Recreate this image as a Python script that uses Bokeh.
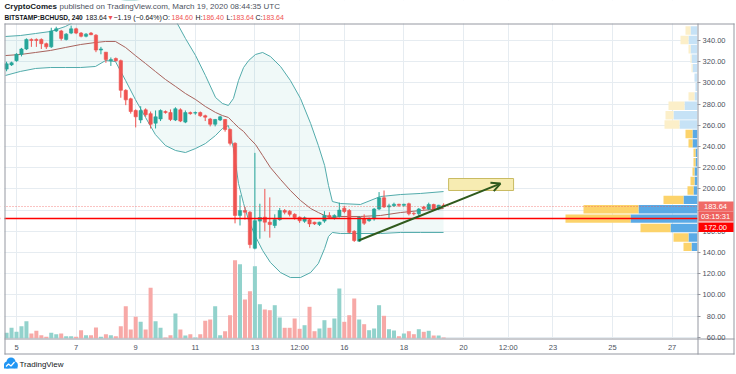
from bokeh.plotting import figure
from bokeh.models import (Range1d, FixedTicker, Label, Arrow, OpenHead, LinearAxis,
                          ColumnDataSource, BoxAnnotation, PrintfTickFormatter)
from bokeh.embed import file_html
from bokeh.resources import INLINE

# ---------------- data ----------------
# 4h candles, BITSTAMP:BCHUSD, first candle March 4 16:00 UTC
first_candle_day = 4 + 16 / 24
opens = [313, 317, 321, 327, 332, 341, 341, 341, 337, 334, 349, 349, 341, 347, 351, 347, 344, 347, 345, 331,
         329, 321, 323, 321, 293, 285, 274, 265, 274.6, 271, 262, 266, 273, 272, 265, 274.6, 263, 272, 271.5, 272,
         269, 266, 261, 265, 265.5, 256, 243, 175, 179.6, 178, 144, 169.6, 173.3, 168.6, 165.5, 171, 179.6, 179, 176, 173.3,
         169.5, 170.8, 168.6, 166.4, 169.6, 175, 172.7, 174, 181.8, 179.6, 160, 150.7, 171.8, 170, 171.8, 181, 191.6, 183, 184, 185.5,
         184.5, 186, 177, 176.5, 183, 181, 185.3, 181, 184.6]
highs = [320, 320, 328, 333, 342, 342, 342, 342, 338, 352, 353, 350, 347, 354, 352, 348, 347, 348, 346, 334,
         329, 324, 324, 322, 294, 286, 275, 278, 276, 273, 274, 275, 274, 275, 277, 276, 274, 273, 273, 273,
         270, 267, 266, 269, 266, 257, 244, 194, 183, 179, 234, 186, 200, 192, 176, 182, 181, 180, 177, 174,
         174, 172, 169, 169, 179, 178, 176, 187, 184, 181, 161, 174, 176, 173, 182, 197, 198.5, 186, 187, 186,
         186, 187, 178, 182, 184, 187, 186, 185, 186.4]
lows = [311, 316, 320, 325, 331, 334, 334, 332, 332, 333, 348, 340, 340, 346, 346, 343, 343, 345, 329, 327,
        319, 316, 320, 286, 279, 271, 258, 262, 268, 257, 257, 264, 271, 264, 264, 263, 262, 270, 270, 268,
        264, 259, 259, 264, 254, 241, 167.5, 165.5, 171, 144, 143, 153, 160, 154, 163, 170, 176, 174, 171, 168,
        168, 164, 166, 165, 168, 172, 171, 173, 177, 158, 150, 150, 166, 169, 170, 180, 182, 172, 183, 183,
        183, 175, 175, 173, 180, 180, 180, 180, 183.64]
closes = [318, 319, 327, 332, 341, 340, 340, 337, 334, 349, 351, 342, 346, 351, 347, 344, 346, 345.5, 331, 332,
          322, 322, 321, 293, 284, 273, 268, 274, 270, 261, 268, 274, 272, 265.5, 275.6, 264, 272, 271, 272, 269,
          267.7, 261, 265.5, 268, 256, 243, 175, 179.6, 178, 147.5, 170, 173, 168.6, 166.4, 171, 179.6, 178, 176, 173, 170,
          172.7, 167, 167, 168.6, 175, 173, 175, 180, 178.7, 159, 151.3, 173.3, 167.6, 171.8, 181, 191.6, 183, 184, 185.5, 184.5,
          185.5, 176.5, 176.5, 181, 181.5, 185.3, 181, 184.6, 183.64]
volumes = [5.7, 10.7, 6.7, 12.3, 17.3, 5, 7.7, 3.3, 1.7, 5.7, 4.3, 5, 2.3, 2.3, 1.7, 8.3, 3.3, 3.3, 11, 1.7,
           4.3, 3.3, 2.3, 12.3, 32.3, 9, 21.7, 16.7, 9, 50.7, 17.3, 10.7, 1, 3.3, 25, 9, 3, 4.3, 1, 4.3,
           17.7, 19, 32.3, 3.3, 7.3, 23.3, 78.3, 74.3, 39, 47.3, 72.3, 34.3, 29, 28.3, 33.3, 21, 10.7, 10.7, 20, 9.7,
           13.3, 31.7, 7.3, 10, 18.3, 10.7, 20, 50, 16.7, 23.3, 40, 19, 14.3, 8.3, 10, 33.3, 22.7, 9.3, 8, 2.3,
           5, 7.3, 4.3, 9.3, 6.7, 7.7, 3, 3, 1]

# Bollinger bands (20, 2)
bb_day = [4.63, 5.13, 5.64, 6.14, 6.64, 7.15, 7.65, 7.99, 8.32, 8.66, 8.99, 9.33, 9.66, 10.0, 10.34, 10.67,
          11.01, 11.34, 11.68, 11.91, 12.11, 12.28, 12.45, 12.62, 12.79, 13.02, 13.26, 13.52, 13.86, 14.19, 14.53,
          14.87, 15.13, 15.34, 15.47, 15.6, 15.87, 16.54, 17.21, 17.89, 18.56, 19.33]
bb_upper = [343.8, 344.7, 346.6, 348.5, 353.2, 360.8, 368.3, 373.0, 375.8, 377.7, 377.7, 375.8, 373.0, 368.3, 358.9, 341.9,
            325.8, 307.0, 286.2, 280.6, 278.7, 285.3, 302.3, 314.5, 321.1, 326.8, 328.7, 324.9, 315.5, 302.3, 285.3,
            261.7, 240.9, 222.1, 203.2, 188.1, 186.2, 185.3, 192.8, 194.7, 195.7, 197.5]
bb_middle = [325.8, 326.8, 328.7, 330.6, 333.4, 336.2, 338.1, 339.1, 339.1, 333.4, 325.8, 318.3, 310.8, 303.2, 296.6, 290.0,
             284.3, 277.7, 272.1, 269.2, 267.4, 262.6, 257.9, 254.2, 248.5, 241.9, 231.5, 220.2, 208.9, 198.5, 189.1,
             181.5, 177.7, 174.9, 174.0, 173.0, 174.0, 174.0, 174.9, 177.7, 179.6, 181.5]
bb_lower = [307.0, 310.8, 313.6, 314.5, 314.5, 314.5, 315.5, 321.1, 320.2, 302.3, 284.3, 267.4, 251.3, 240.9, 236.2, 234.3,
            238.1, 242.8, 250.4, 257.0, 259.8, 238.1, 205.1, 186.2, 170.2, 155.1, 141.9, 130.6, 121.1, 116.4, 116.4,
            121.1, 129.6, 143.8, 155.1, 158.9, 157.9, 157.9, 157.9, 158.9, 158.9, 158.9]

# Visible range volume profile (rows, up volume / down volume)
vp_price = [145.3, 154.2, 163.1, 171.9, 180.8, 189.7, 198.5, 207.4, 216.3, 225.2, 234.0, 242.9,
            251.8, 260.7, 269.5, 278.4, 287.3, 296.2, 305.0, 313.9, 322.8, 331.7, 340.5, 349.4]
vp_up = [6, 9, 27, 67, 59, 14, 4, 3, 3, 2, 2, 5, 5, 18, 24, 13, 3, 2, 3, 5, 6, 7, 9, 7]
vp_down = [8, 15, 30, 65, 55, 20, 6, 4, 2, 2, 2, 4, 7, 15, 8, 16, 6, 0, 0, 1, 1, 2, 8, 5]
vp_in_value_area = [True] * 13 + [False] * 11

# drawings
zone_day = [19.5, 21.68]
zone_price = [198.5, 209.8]
trend_day = [16.48, 21.24]
trend_price = [151.3, 205.0]
last_price = 183.64
level_price = 172.0

x_ticks = [5, 7, 9, 11, 13, 14.5, 16, 18, 20, 21.5, 23, 25, 27]
x_labels = ["5", "7", "9", "11", "13", "12:00", "16", "18", "20", "12:00", "23", "25", "27"]
y_ticks = [60, 80, 100, 120, 140, 160, 180, 200, 220, 240, 260, 280, 300, 320, 340]

# ---------------- layout helpers (pixel -> data) ----------------
W, H = 736, 374
PL, PR, PT, PB = 4, 697, 23, 338      # price pane
OR_, OB = 733, 353                     # outer border right / bottom


def dx(px):
    return 5 + (px - 16) / 29.8


def py(ypx):
    return 340 - (ypx - 40) / 1.06


GREEN, RED = "#26a69a", "#ef5350"
FONT = "Liberation Sans"
AX_COL = "#9598a1"

p = figure(width=W, height=H, x_range=Range1d(dx(0), dx(W)), y_range=Range1d(py(H), py(0)),
           output_backend="svg", toolbar_location=None, x_axis_location=None, y_axis_location=None,
           min_border=0, background_fill_color="white", border_fill_color="white")
p.outline_line_color = None

p.extra_y_ranges = {"vol": Range1d(-(H - PB), PB)}
p.extra_x_ranges = {"vp": Range1d(PR, PR - W)}

# grid
p.xgrid.ticker = FixedTicker(ticks=x_ticks)
p.ygrid.ticker = FixedTicker(ticks=y_ticks)
p.xgrid.grid_line_color = "#e6ecf1"
p.ygrid.grid_line_color = "#e6ecf1"

# axes (price scale on the right edge of the pane, time scale under it)
yax = LinearAxis(ticker=FixedTicker(ticks=y_ticks), formatter=PrintfTickFormatter(format="%.2f"),
                 fixed_location=dx(PR), major_label_overrides={180: ""})
yax.major_tick_in = 3
yax.major_tick_out = 0
yax.major_label_standoff = -28
xax = LinearAxis(ticker=FixedTicker(ticks=x_ticks), fixed_location=py(PB),
                 major_label_overrides={t: l for t, l in zip(x_ticks, x_labels)})
xax.major_tick_in = 0
xax.major_tick_out = 0
xax.major_label_standoff = -13
for ax in (xax, yax):
    ax.axis_line_color = None
    ax.major_tick_line_color = AX_COL
    ax.minor_tick_line_color = None
    ax.major_label_text_font = FONT
    ax.major_label_text_font_size = "7.5px"
    ax.major_label_text_color = "#4c525e"
p.add_layout(yax, "left")
p.add_layout(xax, "above")

# candles
t = [first_candle_day + i / 6 for i in range(len(closes))]
cols = [GREEN if c >= o else RED for o, c in zip(opens, closes)]
vcols = ["#92d2cc" if c >= o else "#f7a9a7" for o, c in zip(opens, closes)]
src = ColumnDataSource(dict(t=t, o=opens, h=highs, l=lows, c=closes,
                            top=[max(o, c) for o, c in zip(opens, closes)],
                            bot=[min(o, c) for o, c in zip(opens, closes)],
                            vol=volumes, col=cols, vcol=vcols))

p.vbar(x="t", top="vol", bottom=0, width=0.135, fill_color="vcol", line_color=None,
       y_range_name="vol", source=src)

# bollinger
p.varea(x=bb_day, y1=bb_lower, y2=bb_upper, fill_color="#26a69a", fill_alpha=0.07)
p.line(bb_day, bb_upper, line_color="#52abab", line_width=1)
p.line(bb_day, bb_lower, line_color="#52abab", line_width=1)
p.line(bb_day, bb_middle, line_color="#a8625c", line_width=1)

p.segment(x0="t", y0="l", x1="t", y1="h", line_color="col", line_width=1, source=src)
p.vbar(x="t", top="top", bottom="bot", width=0.11, fill_color="col", line_color="col",
       line_width=0.6, source=src)

# volume profile
vp_row_h = 7.9
up_c = ["#5aaae6" if v else "#c6e2f6" for v in vp_in_value_area]
dn_c = ["#fcd36b" if v else "#fcefc9" for v in vp_in_value_area]
p.hbar(y=vp_price, left=0, right=vp_up, height=vp_row_h, fill_color=up_c, line_color=None,
       x_range_name="vp")
p.hbar(y=vp_price, left=vp_up, right=[u + d for u, d in zip(vp_up, vp_down)], height=vp_row_h,
       fill_color=dn_c, line_color=None, x_range_name="vp")

# horizontal levels
p.hspan(y=[last_price], line_color=RED, line_alpha=0.7, line_dash="1 2", line_width=1)
p.hspan(y=[level_price], line_color="#ff0000", line_width=1.5)

# drawings
p.quad(left=[zone_day[0]], right=[zone_day[1]], bottom=[zone_price[0]], top=[zone_price[1]],
       fill_color="#f7ecb2", line_color="#c9bb62", line_width=1)
p.add_layout(Arrow(end=OpenHead(size=9, line_color="#2f5a1d", line_width=2),
                   x_start=trend_day[0], y_start=trend_price[0], x_end=trend_day[1], y_end=trend_price[1],
                   line_color="#2f5a1d", line_width=2))

# white chrome around the price pane (header, price scale, time scale, left margin)
chrome = [(0, W, 0, PT), (PR, W, 0, H), (0, W, PB, H), (0, PL, 0, H)]
p.quad(left=[dx(a) for a, b, c, d in chrome], right=[dx(b) for a, b, c, d in chrome],
       top=[py(c) for a, b, c, d in chrome], bottom=[py(d) for a, b, c, d in chrome],
       fill_color="white", line_color=None)

# pane borders (x0, y0, x1, y1 in px)
border_segs = [(PL, PT + 0.5, OR_ + 1, PT + 0.5),      # top
               (PL, PB + 0.5, OR_ + 1, PB + 0.5),      # time scale top
               (PL, OB + 0.5, OR_ + 1, OB + 0.5),      # bottom
               (PL + 0.5, PT, PL + 0.5, OB + 1),       # left
               (PR + 0.5, PT, PR + 0.5, OB + 1),       # price scale left
               (OR_ + 0.5, PT, OR_ + 0.5, OB + 1)]     # right
p.segment(x0=[dx(s[0]) for s in border_segs], y0=[py(s[1]) for s in border_segs],
          x1=[dx(s[2]) for s in border_segs], y1=[py(s[3]) for s in border_segs],
          line_color=AX_COL, line_width=1)

# TradingView logo (cloud)
logo_x = [dx(7), dx(10.5), dx(14)]
logo_y = [py(364.5), py(361.5), py(364.5)]
p.scatter(x=logo_x, y=logo_y, size=[7, 9, 6.5], marker="circle", fill_color="#2196f3", line_color=None)
p.quad(left=[dx(3.5)], right=[dx(17)], top=[py(364)], bottom=[py(368)], fill_color="#2196f3", line_color=None)
p.line(x=[dx(5.5), dx(8), dx(10.5), dx(14)], y=[py(366), py(363.5), py(365.5), py(361.5)],
       line_color="white", line_width=1.2)

# price labels on the scale
for txt, y_top, y_bot, bg in [("183.64", 201, 211, "#f06a67"), ("03:15:31", 211, 221, "#ee5f5c"),
                              ("172.00", 222, 231.5, "#ff0000")]:
    p.add_layout(BoxAnnotation(left=dx(PR + 1), right=dx(OR_), top=py(y_top), bottom=py(y_bot),
                               fill_color=bg, fill_alpha=1, line_color=None))
    p.add_layout(Label(x=dx(715), y=py((y_top + y_bot) / 2), text=txt, text_align="center",
                       text_baseline="middle", text_color="white", text_font=FONT,
                       text_font_size="7.5px"))

# header
hdr = [("CryptoComes", 4, 6, "#131722", "bold", "8px"),
       ("published on TradingView.com, March 19, 2020 08:44:35 UTC", 59, 6, "#4c525e", "normal", "8px"),
       ("BITSTAMP:BCHUSD, 240", 4, 17, "#131722", "bold", "6.6px"),
       ("183.64", 85, 17, "#131722", "normal", "7px"),
       ("\u25bc", 106.5, 17, RED, "normal", "7px"),
       ("\u22121.19 (\u22120.64%)", 113, 17, "#131722", "normal", "7px"),
       ("O:", 162, 17, "#131722", "normal", "7px"),
       ("184.60", 171, 17, RED, "normal", "7px"),
       ("H:", 195, 17, "#131722", "normal", "7px"),
       ("186.40", 202, 17, RED, "normal", "7px"),
       ("L:", 226, 17, "#131722", "normal", "7px"),
       ("183.64", 232, 17, RED, "normal", "7px"),
       ("C:", 255, 17, "#131722", "normal", "7px"),
       ("183.64", 262, 17, RED, "normal", "7px")]
for txt, xp, yp, col, st, fs in hdr:
    p.add_layout(Label(x=dx(xp), y=py(yp), text=txt, text_align="left", text_baseline="middle",
                       text_color=col, text_font=FONT, text_font_size=fs, text_font_style=st))

# footer text
p.add_layout(Label(x=dx(19), y=py(364), text="TradingView", text_align="left", text_baseline="middle",
                   text_color="#131722", text_font=FONT, text_font_size="8px"))

open("out.html", "w").write(file_html(p, INLINE))
